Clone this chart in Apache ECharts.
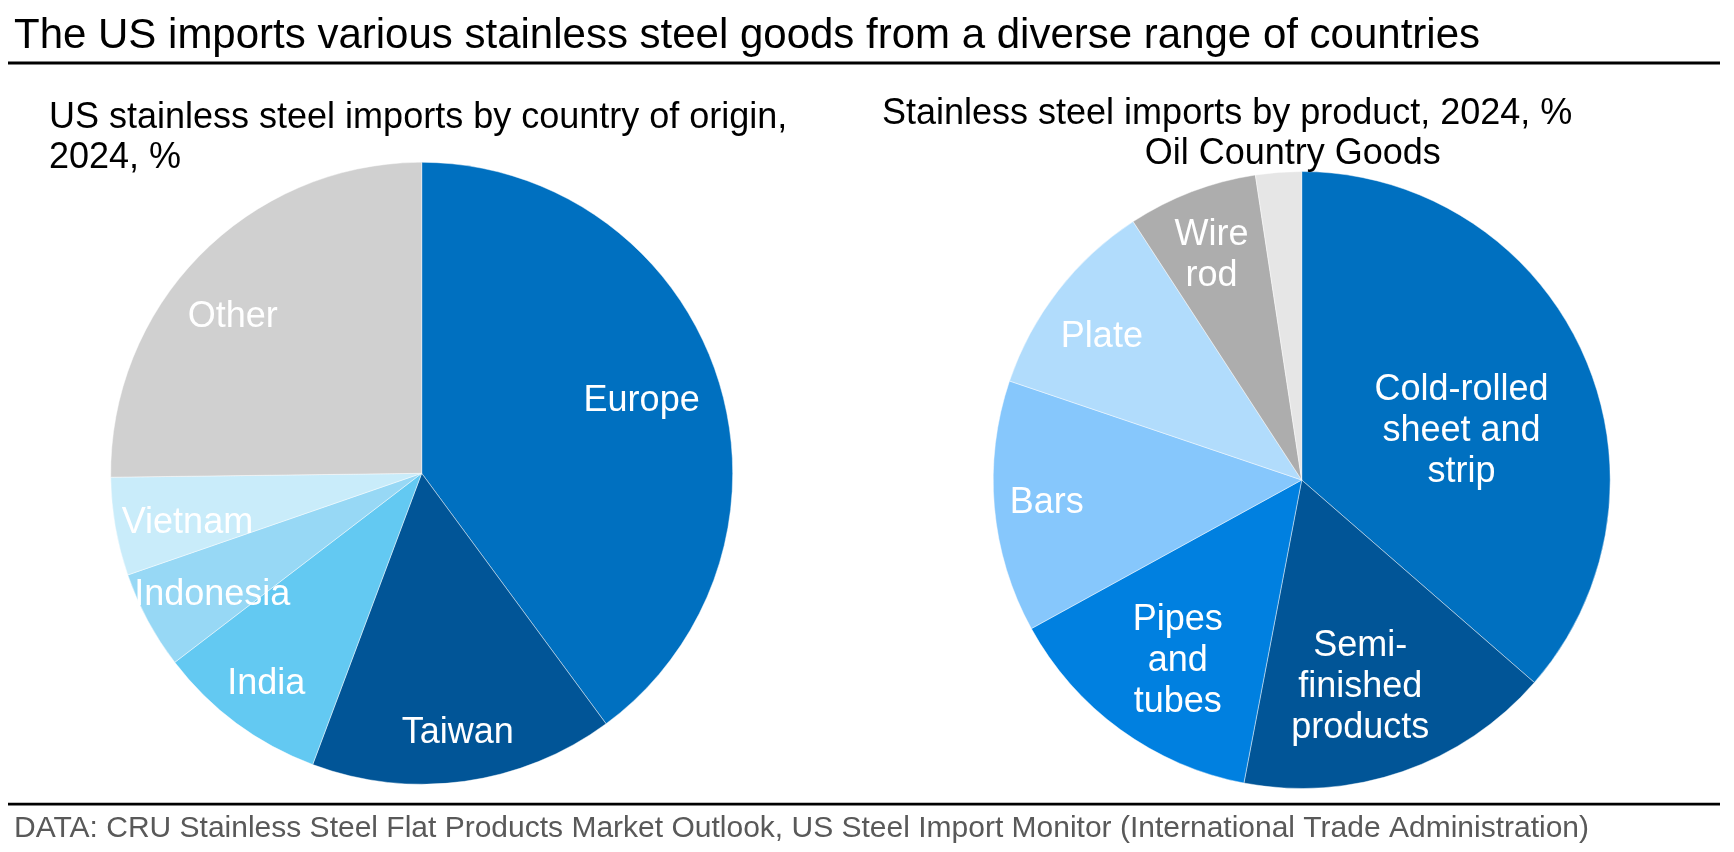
<!DOCTYPE html>
<html>
<head>
<meta charset="utf-8">
<script src="https://cdn.jsdelivr.net/npm/echarts@6/dist/echarts.min.js"></script>
<style>
  html, body { margin: 0; padding: 0; background: #ffffff; }
  #main { width: 1734px; height: 852px; }
</style>
</head>
<body>
<div id="main"></div>
<script>
// ---- Data ----
const countryNames  = ['Europe', 'Taiwan', 'India', 'Indonesia', 'Vietnam', 'Other'];
const countryLabels = ['Europe', 'Taiwan', 'India', 'Indonesia', 'Vietnam', 'Other'];
const countryShares = [39.9, 15.8, 8.9, 5.1, 5.1, 25.2];

const productNames  = ['Cold-rolled sheet and strip', 'Semi-finished products', 'Pipes and tubes', 'Bars', 'Plate', 'Wire rod', 'Oil Country Goods'];
const productLabels = ['Cold-rolled\nsheet and\nstrip', 'Semi-\nfinished\nproducts', 'Pipes\nand\ntubes', 'Bars', 'Plate', 'Wire\nrod', 'Oil Country Goods'];
const productShares = [36.4, 16.6, 14.0, 13.2, 10.6, 6.8, 2.4];

const titleText     = 'The US imports various stainless steel goods from a diverse range of countries';
const leftSubtitle  = 'US stainless steel imports by country of origin,\n2024, %';
const rightSubtitle = 'Stainless steel imports by product, 2024, %';
const sourceText    = 'DATA: CRU Stainless Steel Flat Products Market Outlook, US Steel Import Monitor (International Trade Administration)';

// ---- Styles ----
const FONT = '"Liberation Sans", Arial, sans-serif';
const countryColors = ['#0070C0', '#015597', '#63C9F2', '#97D8F5', '#C9ECFA', '#D0D0D0'];
const productColors = ['#0070C0', '#015597', '#0080E0', '#86C7FC', '#B1DCFC', '#ADADAD', '#E6E6E6'];

const leftPie  = { center: [421.7, 473.3], r: 311 };
const rightPie = { center: [1301.7, 480], r: 308.5 };

// label placement rings (fraction of radius + small nudge) – style only
const leftRings = [
  { names: ['Europe'], frac: 0.755, offset: [-6, 2], color: '#ffffff' },
  { names: ['Indonesia', 'Vietnam'], frac: 0.755, offset: [0, 9], color: '#ffffff' },
  { names: ['Other'], frac: 0.79, offset: [-12, 19], color: '#ffffff' },
  { names: ['Taiwan', 'India'], frac: 0.83, offset: [0, 1], color: '#ffffff' }
];
const rightRings = [
  { names: ['Cold-rolled sheet and strip'], frac: 0.545, offset: [4, 22], color: '#ffffff' },
  { names: ['Semi-finished products'], frac: 0.69, offset: [-12, 3], color: '#ffffff' },
  { names: ['Pipes and tubes'], frac: 0.69, offset: [3, 6], color: '#ffffff' },
  { names: ['Bars'], frac: 0.81, offset: [-3, 1], color: '#ffffff' },
  { names: ['Plate', 'Wire rod'], frac: 0.81, offset: [0, 12], color: '#ffffff' },
  { names: ['Oil Country Goods'], frac: 1.066, offset: [16, 5], color: '#000000' }
];

function pieData(names, values, colors) {
  return names.map((n, i) => ({ name: n, value: values[i], itemStyle: { color: colors[i] } }));
}

function mainPie(pie, names, values, colors) {
  return {
    type: 'pie',
    center: pie.center,
    radius: [0, pie.r],
    startAngle: 90,
    clockwise: true,
    silent: true,
    animation: false,
    avoidLabelOverlap: false,
    label: { show: false },
    labelLine: { show: false },
    itemStyle: { borderColor: 'rgba(255,255,255,0.55)', borderWidth: 0.8 },
    emphasis: { disabled: true },
    data: pieData(names, values, colors)
  };
}

function labelRing(pie, ring, names, labels, values) {
  const mid = pie.r * ring.frac;
  return {
    type: 'pie',
    center: pie.center,
    radius: [mid - 10, mid + 10],
    startAngle: 90,
    clockwise: true,
    silent: true,
    animation: false,
    avoidLabelOverlap: false,
    z: 5,
    itemStyle: { color: 'rgba(0,0,0,0)', borderWidth: 0 },
    emphasis: { disabled: true },
    labelLine: { show: false },
    label: {
      show: true,
      position: 'inside',
      color: ring.color,
      fontFamily: FONT,
      fontSize: 36,
      lineHeight: 41,
      align: 'center',
      offset: ring.offset,
      formatter: p => ring.names.indexOf(p.name) >= 0 ? labels[p.dataIndex] : ''
    },
    data: names.map((n, i) => ({ name: n, value: values[i] }))
  };
}

const series = [
  mainPie(leftPie, countryNames, countryShares, countryColors),
  mainPie(rightPie, productNames, productShares, productColors)
];
leftRings.forEach(r => series.push(labelRing(leftPie, r, countryNames, countryLabels, countryShares)));
rightRings.forEach(r => series.push(labelRing(rightPie, r, productNames, productLabels, productShares)));

const chart = echarts.init(document.getElementById('main'), null, { renderer: 'canvas' });
chart.setOption({
  backgroundColor: '#ffffff',
  animation: false,
  title: [
    {
      text: titleText, left: 14, top: 15, padding: 0,
      textStyle: { fontFamily: FONT, fontSize: 42, lineHeight: 42, fontWeight: 'normal', color: '#000000' }
    },
    {
      text: leftSubtitle, left: 49, top: 98, padding: 0,
      textStyle: { fontFamily: FONT, fontSize: 36, lineHeight: 40, fontWeight: 'normal', color: '#000000' }
    },
    {
      text: rightSubtitle, left: 882, top: 94.5, padding: 0,
      textStyle: { fontFamily: FONT, fontSize: 36, lineHeight: 40, fontWeight: 'normal', color: '#000000' }
    },
    {
      text: sourceText, left: 14, top: 814, padding: 0,
      textStyle: { fontFamily: FONT, fontSize: 30, lineHeight: 30, fontWeight: 'normal', color: '#595959' }
    }
  ],
  graphic: [
    { type: 'rect', shape: { x: 8, y: 61.5, width: 1712, height: 3 }, style: { fill: '#000000' }, silent: true },
    { type: 'rect', shape: { x: 8, y: 802.7, width: 1712, height: 2.7 }, style: { fill: '#000000' }, silent: true }
  ],
  series: series
});
</script>
</body>
</html>
